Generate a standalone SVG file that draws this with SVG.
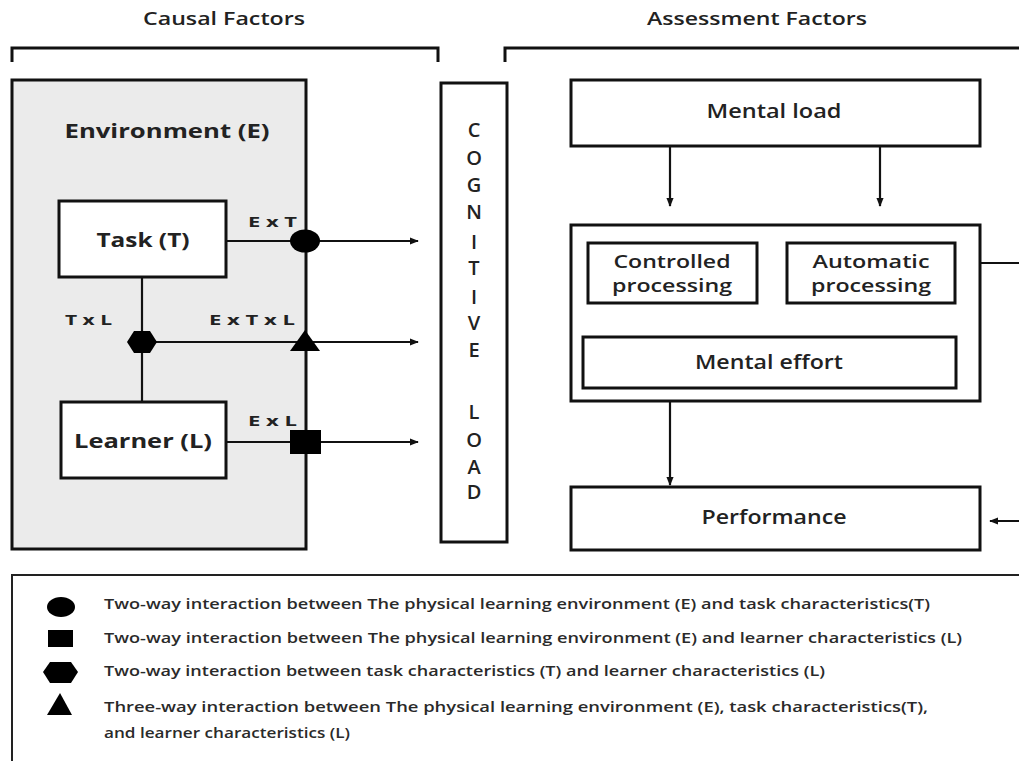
<svg xmlns="http://www.w3.org/2000/svg" width="1019" height="761" viewBox="0 0 1019 761">
<defs>
<style>
.t{font-family:"Open Sans","Liberation Sans",sans-serif;fill:#222;}
.m{font-weight:600;}
.b{font-weight:bold;}
.box{fill:#fff;stroke:#111;stroke-width:3;}
.ln{fill:none;stroke:#111;stroke-width:2.2;}
.br{fill:none;stroke:#111;stroke-width:3;}
.leg{font-family:"Open Sans","Liberation Sans",sans-serif;fill:#2a2a2a;font-size:15px;font-weight:600;}
</style>
<marker id="ah" viewBox="0 0 10 10" refX="9" refY="5" markerWidth="9" markerHeight="9" markerUnits="userSpaceOnUse" orient="auto">
<path d="M0,1 L10,5 L0,9 Z" fill="#111"/>
</marker>
</defs>
<rect width="1019" height="761" fill="#fff"/>

<g id="titles">
<text class="t m" x="224" y="25" font-size="18" text-anchor="middle" textLength="162" lengthAdjust="spacingAndGlyphs">Causal Factors</text>
<text class="t m" x="757" y="25" font-size="18" text-anchor="middle" textLength="220" lengthAdjust="spacingAndGlyphs">Assessment Factors</text>
<path class="br" d="M12,62 V48 H438 V62"/>
<path class="br" d="M505,62 V48 H1025"/>
</g>

<g id="environment">
<rect x="12" y="80" width="294" height="469" fill="#ebebeb" stroke="#111" stroke-width="3"/>
<text class="t b" x="167" y="138" font-size="20" text-anchor="middle" textLength="205" lengthAdjust="spacingAndGlyphs">Environment (E)</text>
</g>

<g id="connectors">
<line class="ln" x1="142" y1="277" x2="142" y2="402"/>
<line class="ln" x1="226" y1="241" x2="418" y2="241" marker-end="url(#ah)"/>
<line class="ln" x1="142" y1="342" x2="418" y2="342" marker-end="url(#ah)"/>
<line class="ln" x1="226" y1="442" x2="418" y2="442" marker-end="url(#ah)"/>
<line class="ln" x1="670" y1="146" x2="670" y2="206" marker-end="url(#ah)"/>
<line class="ln" x1="880" y1="146" x2="880" y2="206" marker-end="url(#ah)"/>
<line class="ln" x1="670" y1="303" x2="670" y2="329" marker-end="url(#ah)"/>
<line class="ln" x1="670" y1="401" x2="670" y2="485" marker-end="url(#ah)"/>
<line class="ln" x1="955" y1="263" x2="1025" y2="263"/>
<line class="ln" x1="1025" y1="521" x2="990" y2="521" marker-end="url(#ah)"/>
</g>

<g id="task">
<rect class="box" x="59" y="201" width="167" height="76"/>
<text class="t b" x="143" y="247" font-size="20" text-anchor="middle" textLength="93" lengthAdjust="spacingAndGlyphs">Task (T)</text>
</g>

<g id="learner">
<rect class="box" x="61" y="402" width="165" height="76"/>
<text class="t b" x="143" y="448" font-size="20" text-anchor="middle" textLength="138" lengthAdjust="spacingAndGlyphs">Learner (L)</text>
</g>

<g id="interactions">
<ellipse cx="305" cy="241" rx="15" ry="11.5" fill="#000"/>
<polygon points="127,342 134,331 150,331 157,342 150,353 134,353" fill="#000"/>
<polygon points="305,330 320,351 290,351" fill="#000"/>
<rect x="290" y="430" width="31" height="24" fill="#000"/>
<text class="t b" x="248" y="227" font-size="15" textLength="49" lengthAdjust="spacingAndGlyphs">E x T</text>
<text class="t b" x="65" y="325" font-size="15" textLength="47" lengthAdjust="spacingAndGlyphs">T x L</text>
<text class="t b" x="209" y="325" font-size="15" textLength="86" lengthAdjust="spacingAndGlyphs">E x T x L</text>
<text class="t b" x="248" y="426" font-size="15" textLength="49" lengthAdjust="spacingAndGlyphs">E x L</text>
</g>

<g id="cognitive-load">
<rect class="box" x="441" y="83" width="66" height="459"/>
<g class="t m" font-size="20" text-anchor="middle">
<text x="474" y="137">C</text>
<text x="474" y="165">O</text>
<text x="474" y="192">G</text>
<text x="474" y="219">N</text>
<text x="474" y="249">I</text>
<text x="474" y="275">T</text>
<text x="474" y="304">I</text>
<text x="474" y="330">V</text>
<text x="474" y="357">E</text>
<text x="474" y="419">L</text>
<text x="474" y="447">O</text>
<text x="474" y="474">A</text>
<text x="474" y="499">D</text>
</g>
</g>

<g id="mental-load">
<rect class="box" x="571" y="80" width="409" height="66"/>
<text class="t m" x="774" y="118" font-size="19" text-anchor="middle" textLength="135" lengthAdjust="spacingAndGlyphs">Mental load</text>
</g>

<g id="processing">
<rect class="box" x="571" y="225" width="409" height="176"/>
</g>

<g id="controlled">
<rect class="box" x="588" y="243" width="169" height="60"/>
<text class="t m" x="672" y="268" font-size="18" text-anchor="middle" textLength="117" lengthAdjust="spacingAndGlyphs">Controlled</text>
<text class="t m" x="672" y="292" font-size="18" text-anchor="middle" textLength="120" lengthAdjust="spacingAndGlyphs">processing</text>
</g>

<g id="automatic">
<rect class="box" x="787" y="243" width="168" height="60"/>
<text class="t m" x="871" y="268" font-size="18" text-anchor="middle" textLength="117" lengthAdjust="spacingAndGlyphs">Automatic</text>
<text class="t m" x="871" y="292" font-size="18" text-anchor="middle" textLength="120" lengthAdjust="spacingAndGlyphs">processing</text>
</g>

<g id="mental-effort">
<rect class="box" x="583" y="337" width="373" height="51"/>
<text class="t m" x="769" y="369" font-size="19" text-anchor="middle" textLength="148" lengthAdjust="spacingAndGlyphs">Mental effort</text>
</g>

<g id="performance">
<rect class="box" x="571" y="487" width="409" height="63"/>
<text class="t m" x="774" y="524" font-size="19" text-anchor="middle" textLength="145" lengthAdjust="spacingAndGlyphs">Performance</text>
</g>

<g id="legend">
<path d="M1025,575 H12 V765" fill="none" stroke="#222" stroke-width="2"/>
<ellipse cx="61" cy="607" rx="14" ry="10" fill="#000"/>
<rect x="48" y="630" width="25" height="17" fill="#000"/>
<polygon points="43,672 50,662 71,662 78,672 71,683 50,683" fill="#000"/>
<polygon points="60,693 72,715 47,715" fill="#000"/>
<text class="leg" x="104" y="609" textLength="826" lengthAdjust="spacingAndGlyphs">Two-way interaction between The physical learning environment (E) and task characteristics(T)</text>
<text class="leg" x="104" y="643" textLength="858" lengthAdjust="spacingAndGlyphs">Two-way interaction between The physical learning environment (E) and learner characteristics (L)</text>
<text class="leg" x="104" y="676" textLength="721" lengthAdjust="spacingAndGlyphs">Two-way interaction between task characteristics (T) and learner characteristics (L)</text>
<text class="leg" x="104" y="712" textLength="824" lengthAdjust="spacingAndGlyphs">Three-way interaction between The physical learning environment (E), task characteristics(T),</text>
<text class="leg" x="104" y="738" textLength="246" lengthAdjust="spacingAndGlyphs">and learner characteristics (L)</text>
</g>
</svg>
